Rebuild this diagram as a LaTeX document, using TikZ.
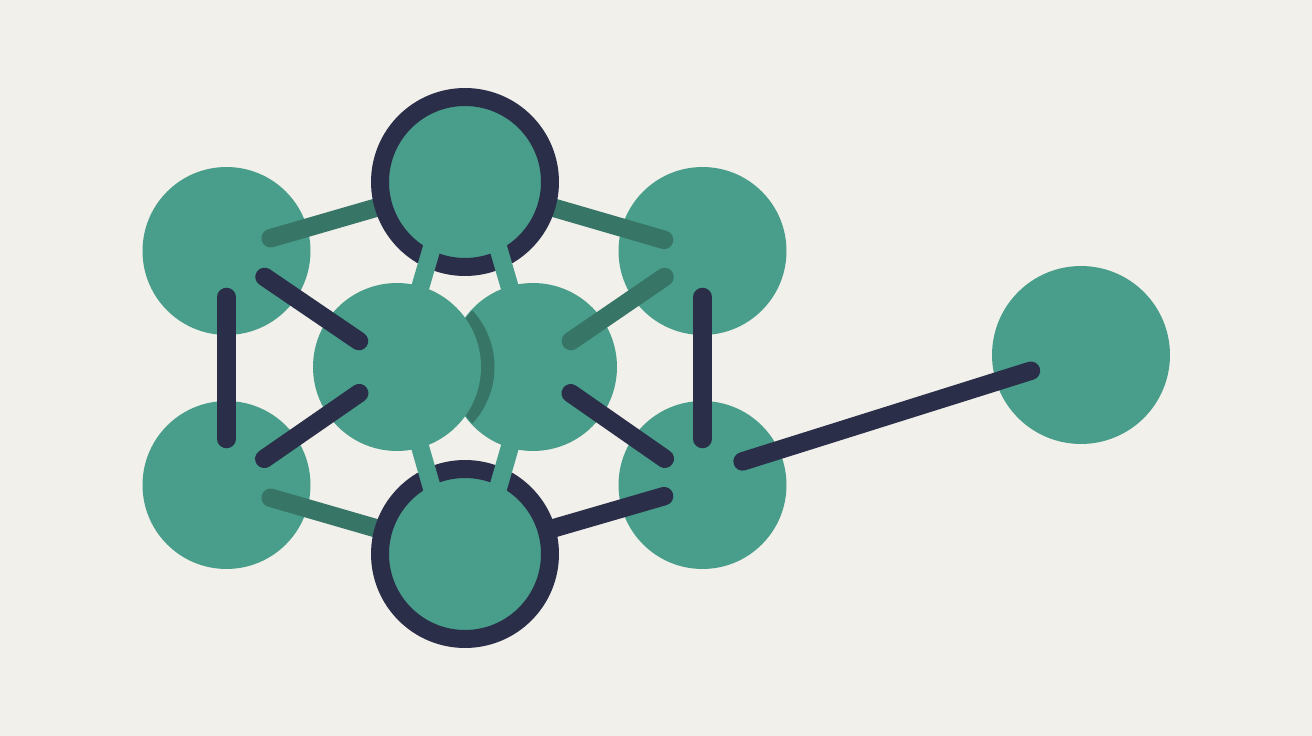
\documentclass[tikz,border=0pt]{standalone}
\usepackage{tikz}

\definecolor{paper}{HTML}{F2F0EB}
\definecolor{jade}{HTML}{489E8A}
\definecolor{navy}{HTML}{2A2E48}
\definecolor{moss}{HTML}{377567}

\pgfdeclarelayer{back}
\pgfdeclarelayer{rings}
\pgfdeclarelayer{front}
\pgfsetlayers{back,main,rings,front}

\begin{document}
\begin{tikzpicture}[x=0.02cm, y=-0.02cm,
    atom/.style={circle, fill=jade, inner sep=0pt, minimum size=3.36cm},
    ring/.style={atom, draw=navy, line width=0.36cm, minimum size=3.4cm},
    bond/.style={navy, line width=0.37cm, line cap=round, shorten <=0.92cm, shorten >=0.92cm},
    link/.style={jade, line width=0.36cm}]
  \begin{pgfonlayer}{back}
    \fill[paper] (0,0) rectangle (1312,736);
    \node[atom] (tl) at (226.5,251) {};
    \node[atom] (bl) at (226.5,485) {};
    \node[atom] (tr) at (702.5,251) {};
    \node[atom] (br) at (702.5,485) {};
    \node[atom] (cr) at (533,367) {};
    \node[atom, minimum size=3.56cm] (far) at (1081,355) {};
    \begin{scope}
      \clip (cr.center) circle[radius=1.66cm];
      \fill[moss] (411,367) circle[radius=1.67cm];
    \end{scope}
    \node[atom] (cl) at (397,367) {};
  \end{pgfonlayer}
  \begin{pgfonlayer}{rings}
    \node[ring] (crown) at (465,182) {};
    \node[ring] (base) at (465,554) {};
  \end{pgfonlayer}
  \draw[bond] (tl.center) -- (bl.center);
  \draw[bond] (tl.center) -- (cl.center);
  \draw[bond] (bl.center) -- (cl.center);
  \draw[bond] (tr.center) -- (br.center);
  \draw[bond] (cr.center) -- (br.center);
  \draw[bond, shorten >=0.8cm] (base.center) -- (br.center);
  \draw[bond, shorten <=0.84cm, shorten >=1.05cm] ([yshift=0.22cm]br.center) -- (far.center);
  \draw[bond, moss] (tl.center) -- (crown.center);
  \draw[bond, moss, shorten >=0.8cm] (crown.center) -- (tr.center);
  \draw[bond, moss] (cr.center) -- (tr.center);
  \draw[bond, moss] (bl.center) -- (base.center);
  \begin{pgfonlayer}{front}
    \draw[link] ([xshift=-0.28cm]crown.center) -- (cl.center);
    \draw[link] ([xshift=0.28cm]crown.center) -- (cr.center);
    \draw[link] ([xshift=-0.28cm]base.center) -- (cl.center);
    \draw[link] ([xshift=0.28cm]base.center) -- (cr.center);
  \end{pgfonlayer}
\end{tikzpicture}
\end{document}
